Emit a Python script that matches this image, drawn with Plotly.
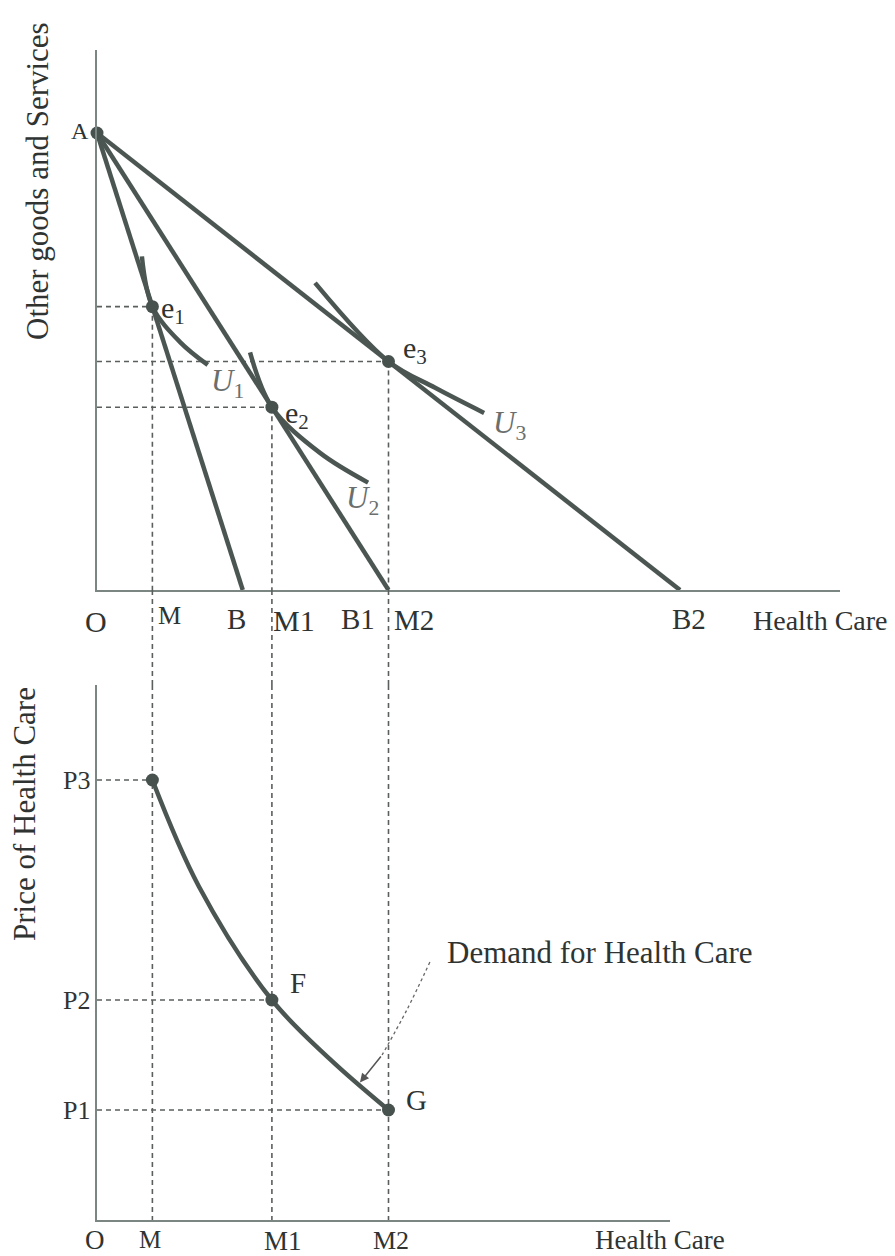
import plotly.graph_objects as go

# ---------------- data ----------------
A_value = 20                      # intercept A on "Other goods" axis
budget_names = ['B', 'B1', 'B2']
budget_intercepts = [5, 10, 20]   # health-care intercepts of the three budget lines

eq_names = ['e<sub>1</sub>', 'e<sub>2</sub>', 'e<sub>3</sub>']
eq_qty = [1.9, 6.0, 10.0]         # M, M1, M2
eq_other = [12.4, 8.0, 10.0]
qty_names = ['M', 'M1', 'M2']

U1_x = [1.54, 1.9, 2.85, 3.8]
U1_y = [14.6, 12.4, 10.85, 9.85]
U2_x = [5.25, 6.0, 7.65, 9.3]
U2_y = [10.4, 8.0, 6.0, 4.7]
U3_x = [7.48, 10.0, 11.6, 13.28]
U3_y = [13.44, 10.0, 8.85, 7.75]
U_names = ['<i>U</i><sub>1</sub>', '<i>U</i><sub>2</sub>', '<i>U</i><sub>3</sub>']

price_names = ['P3', 'P2', 'P1']
prices = [4, 2, 1]
point_names = ['', 'F', 'G']

demand_qty = [1.9, 3.5, 6.0, 8.0, 10.0]
demand_price = [4.0, 3.03, 2.0, 1.46, 1.0]

leader_x = [11.42, 10.63, 9.78]
leader_y = [2.345, 1.91, 1.5]
arrow_tip_x, arrow_tip_y = 9.02, 1.25

# ---------------- layout constants ----------------
W, H = 895, 1256
OX = 97
TOP_AX, TOP_TOP, TOP_RIGHT = 590, 50, 840
BOT_AX, BOT_TOP, BOT_RIGHT = 1220, 685, 670
PX_X, PX_Y_TOP, PX_Y_BOT = 29.15, 22.85, 110.0

x_top_max = (TOP_RIGHT - OX) / PX_X
x_bot_max = (BOT_RIGHT - OX) / PX_X
y_top_max = (TOP_AX - TOP_TOP) / PX_Y_TOP
y_bot_max = (BOT_AX - BOT_TOP) / PX_Y_BOT

LINE = '#4b5653'
DASH = '#5a5f5d'
AXC = '#7b8581'
TXT = '#2f3432'
FONT = 'Liberation Serif'

fig = go.Figure()

def add(x, y, xa='x', ya='y', color=LINE, width=4, dash=None, shape='linear', mode='lines', **kw):
    fig.add_trace(go.Scatter(x=x, y=y, xaxis=xa, yaxis=ya, mode=mode,
                             line=dict(color=color, width=width, dash=dash, shape=shape),
                             hoverinfo='skip', showlegend=False, **kw))

# dashed guide lines (top panel, gap, bottom panel)
for q, o in zip(eq_qty, eq_other):
    add([0, q], [o, o], color=DASH, width=1.6, dash='5px,4px')
    add([q, q], [o, 0], color=DASH, width=1.6, dash='5px,4px')
    add([q, q], [0, 1], xa='x3', ya='y3', color=DASH, width=1.6, dash='5px,4px')
    add([q, q], [y_bot_max, 0], xa='x2', ya='y2', color=DASH, width=1.6, dash='5px,4px')

for q, p in zip(eq_qty, prices):
    add([0, q], [p, p], xa='x2', ya='y2', color=DASH, width=1.6, dash='5px,4px')

# budget lines
for b in budget_intercepts:
    add([0, b], [A_value, 0], width=4.5)

# indifference curves
for ux, uy in [(U1_x, U1_y), (U2_x, U2_y), (U3_x, U3_y)]:
    add(ux, uy, width=4.5, shape='spline')

# demand curve
add(demand_qty, demand_price, xa='x2', ya='y2', width=4.5, shape='spline')

# leader line for demand label
add(leader_x, leader_y, xa='x2', ya='y2', color='#666', width=1.3, dash='dot', shape='spline')

# points
fig.add_trace(go.Scatter(x=[0] + eq_qty, y=[A_value] + eq_other, mode='markers',
                         marker=dict(size=13, color='#47524f'), cliponaxis=False,
                         hoverinfo='skip', showlegend=False))
fig.add_trace(go.Scatter(x=eq_qty, y=prices, xaxis='x2', yaxis='y2', mode='markers',
                         marker=dict(size=13, color='#47524f'), cliponaxis=False,
                         hoverinfo='skip', showlegend=False))

ann = []
def label(text, x, y, xs=0, ys=0, xref='x', yref='y', size=26, xanchor='center', color=TXT, **kw):
    ann.append(dict(text=text, x=x, y=y, xref=xref, yref=yref, xshift=xs, yshift=ys,
                    showarrow=False, xanchor=xanchor, yanchor='middle',
                    font=dict(family=FONT, size=size, color=color), **kw))

# top panel labels
label('A', 0, A_value, xs=-6, ys=2, xanchor='right', size=24)
label('O', 0, 0, xs=-1, ys=-31, size=30)
top_qty_shift = [(17, -25, 26), (22, -30, 30), (25, -30, 29)]
for n, q, (xs, ys, sz) in zip(qty_names, eq_qty, top_qty_shift):
    label(n, q, 0, xs=xs, ys=ys, size=sz)
budget_shift = [(-6, -29), (-31, -29), (9, -29)]
for n, b, (xs, ys) in zip(budget_names, budget_intercepts, budget_shift):
    label(n, b, 0, xs=xs, ys=ys, size=29)
label('Health Care', 1, 0, xref='x domain', xs=50, ys=-30, xanchor='right', size=28)
eq_shift = [(7, -3), (11, -8), (12, 12)]
for n, q, o, (xs, ys) in zip(eq_names, eq_qty, eq_other, eq_shift):
    label(n, q, o, xs=xs, ys=ys, xanchor='left', size=30)
u_ends = [(U1_x[-1], U1_y[-1]), (U2_x[-1], U2_y[-1]), (U3_x[-1], U3_y[-1])]
u_shift = [(20, -18), (-6, -17), (25, -12)]
for n, (ex, ey), (xs, ys) in zip(U_names, u_ends, u_shift):
    label(n, ex, ey, xs=xs, ys=ys, size=31, color='#6a6f6d')

# bottom panel labels
for n, p in zip(price_names, prices):
    label(n, 0, p, xs=-5, xref='x2', yref='y2', xanchor='right', size=26)
label('O', 0, 0, xs=-2, ys=-20, xref='x2', yref='y2', size=27)
bot_qty_shift = [(-2, -19, 25), (11, -21, 27), (2, -20, 26)]
for n, q, (xs, ys, sz) in zip(qty_names, eq_qty, bot_qty_shift):
    label(n, q, 0, xs=xs, ys=ys, xref='x2', yref='y2', size=sz)
label('Health Care', 1, 0, xref='x2 domain', yref='y2', xs=-10, ys=-20, size=27)
pt_shift = [(0, 0), (16, 17), (15, 10)]
for n, q, p, (xs, ys) in zip(point_names, eq_qty, prices, pt_shift):
    if n:
        label(n, q, p, xs=xs, ys=ys, xref='x2', yref='y2', xanchor='left', size=29)
label('Demand for Health Care', leader_x[0], leader_y[0], xs=15, ys=10,
      xref='x2', yref='y2', xanchor='left', size=31)
ann.append(dict(x=arrow_tip_x, y=arrow_tip_y, ax=leader_x[-1], ay=leader_y[-1],
                xref='x2', yref='y2', axref='x2', ayref='y2', text='', showarrow=True,
                arrowhead=2, arrowsize=1.2, arrowwidth=1.5, arrowcolor='#555'))

# axis titles
ann.append(dict(text='Other goods and Services', x=37 / W, y=1 - 181 / H, xref='paper', yref='paper',
                xanchor='center', yanchor='middle',
                textangle=-90, showarrow=False, font=dict(family=FONT, size=31, color=TXT)))
ann.append(dict(text='Price of Health Care', x=24 / W, y=1 - 814 / H, xref='paper', yref='paper',
                xanchor='center', yanchor='middle',
                textangle=-90, showarrow=False, font=dict(family=FONT, size=31, color=TXT)))

ax_common = dict(showgrid=False, zeroline=False, showticklabels=False, ticks='',
                 showline=True, linecolor=AXC, linewidth=2, fixedrange=True)
hidden = dict(showgrid=False, zeroline=False, showticklabels=False, ticks='', showline=False, visible=False)

fig.update_layout(
    width=W, height=H, margin=dict(l=0, r=0, t=0, b=0),
    paper_bgcolor='white', plot_bgcolor='rgba(0,0,0,0)',
    xaxis=dict(domain=[OX / W, TOP_RIGHT / W], range=[0, x_top_max], anchor='y', **ax_common),
    yaxis=dict(domain=[1 - TOP_AX / H, 1 - TOP_TOP / H], range=[0, y_top_max], anchor='x', **ax_common),
    xaxis2=dict(domain=[OX / W, BOT_RIGHT / W], range=[0, x_bot_max], anchor='y2', **ax_common),
    yaxis2=dict(domain=[1 - BOT_AX / H, 1 - BOT_TOP / H], range=[0, y_bot_max], anchor='x2', **ax_common),
    xaxis3=dict(domain=[OX / W, TOP_RIGHT / W], range=[0, x_top_max], anchor='y3', **hidden),
    yaxis3=dict(domain=[1 - BOT_TOP / H, 1 - TOP_AX / H], range=[0, 1], anchor='x3', **hidden),
    annotations=ann,
)

fig.write_html('out.html', config={'displayModeBar': False, 'staticPlot': True},
               post_script="document.body.style.margin='0';document.body.style.padding='0';"
                           "document.body.style.overflow='hidden';")
